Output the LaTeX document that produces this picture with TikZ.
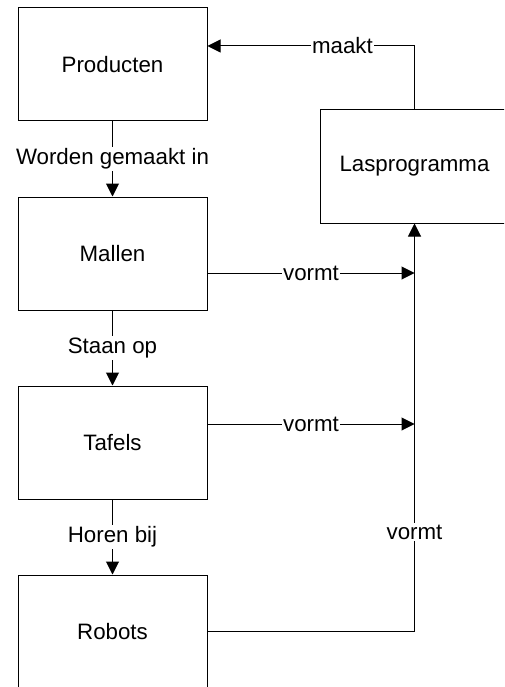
\documentclass[tikz,border=0pt]{standalone}
\usepackage{fontspec}
\setmainfont{Liberation Sans}
\usetikzlibrary{arrows.meta}
\tikzset{
  box/.style={draw, line width=1pt, minimum width=189pt, minimum height=113pt, inner sep=0pt},
  lbl/.style={fill=white, inner sep=1.5pt},
  arr/.style={-{Triangle[length=13pt,width=13pt]}},
}
\begin{document}
\begin{tikzpicture}[x=1pt, y=-1pt, line width=1pt, font=\fontsize{22.3}{26}\selectfont]
      \clip (0,0) rectangle (504,687);
      \useasboundingbox (0,0) rectangle (504,687);
      \node[box] (prod) at (112.5,64.5) {Producten};
      \node[box] (mallen) at (112.5,253.5) {Mallen};
      \node[box] (tafels) at (112.5,442.5) {Tafels};
      \node[box] (robots) at (112.5,631.5) {Robots};
      \node[box] (las) at (414.5,166.5) {Lasprogramma};
      \coordinate (mout) at ([yshift=-19.5pt]mallen.east);
      \coordinate (tout) at ([yshift=18.5pt]tafels.east);
      \coordinate (pin) at ([yshift=18.5pt]prod.east);
      \begin{scope}[arr]
        \draw (prod) to node[lbl]{Worden gemaakt in} (mallen);
        \draw (mallen) to node[lbl]{Staan op} (tafels);
        \draw (tafels) to node[lbl]{Horen bij} (robots);
        \draw (las.north) |- node[lbl, pos=0.674]{maakt} (pin);
        \draw (mout) -- (mout -| las.south) node[lbl, midway]{vormt};
        \draw (tout) -- (tout -| las.south) node[lbl, midway]{vormt};
        \draw (robots.east) -| node[lbl, pos=0.622]{vormt} (las.south);
      \end{scope}
    \end{tikzpicture}
\end{document}
